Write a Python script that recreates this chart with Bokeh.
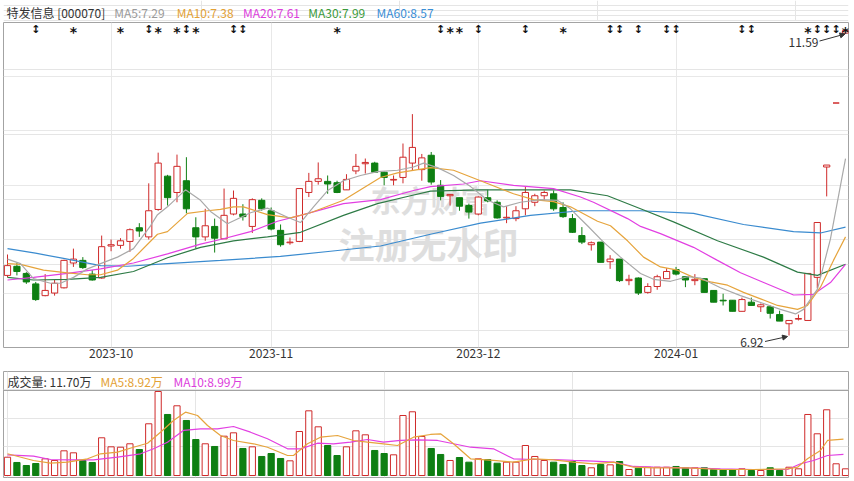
from bokeh.plotting import figure
from bokeh.models import Range1d, FixedTicker, Grid, Span, Arrow, NormalHead
from bokeh.layouts import column
from bokeh.embed import file_html
from bokeh.resources import INLINE
from bokeh.core.properties import value

FONT = "Noto Sans CJK SC"

# ---------------- data ----------------
stock_name = "特发信息 [000070]"
header_ma = ["MA5:7.29", "MA10:7.38", "MA20:7.61", "MA30:7.99", "MA60:8.57"]
vol_header = ["成交量: 11.70万", "MA5:8.92万", "MA10:8.99万"]
month_ticks = [11, 28, 50, 71]
month_labels = ["2023-10", "2023-11", "2023-12", "2024-01"]

opens = [7.84, 7.98, 7.87, 7.71, 7.53, 7.57, 7.65, 8.03, 8.07, 7.86,
         7.80, 8.29, 8.30, 8.36, 8.57, 8.43, 8.85, 9.36, 9.11, 9.29,
         8.57, 8.43, 8.59, 8.40, 8.78, 8.78, 8.59, 8.99, 8.83, 8.53,
         8.34, 8.36, 9.11, 9.28, 9.28, 9.26, 9.15, 9.44, 9.55, 9.56,
         9.42, 9.30, 9.34, 9.56, 9.46, 9.68, 9.22, 9.06, 9.03, 8.91,
         8.78, 9.03, 8.96, 8.72, 8.71, 8.86, 8.96, 9.06, 9.09, 8.88,
         8.71, 8.45, 8.31, 8.35, 8.05, 8.09, 7.76, 7.80, 7.58, 7.67,
         7.79, 7.93, 7.82, 7.76, 7.79, 7.61, 7.46, 7.46, 7.29, 7.43,
         7.36, 7.36, 7.24, 7.10, 7.17, 7.15, 7.81, 9.50, 10.48, 11.55]
highs = [8.16, 8.03, 7.89, 7.74, 7.86, 7.77, 8.08, 8.25, 8.12, 7.92,
         8.45, 8.39, 8.41, 8.56, 8.64, 9.25, 9.72, 9.38, 9.69, 9.65,
         8.73, 8.86, 8.71, 9.17, 9.14, 8.93, 9.02, 9.02, 8.88, 8.62,
         8.42, 9.17, 9.41, 9.57, 9.37, 9.29, 9.39, 9.70, 9.63, 9.58,
         9.43, 9.37, 9.86, 10.31, 9.70, 9.73, 9.30, 9.08, 9.03, 8.94,
         9.05, 9.15, 8.99, 8.90, 8.90, 9.20, 9.09, 9.14, 9.14, 8.96,
         8.78, 8.58, 8.36, 8.35, 8.15, 8.09, 7.85, 7.81, 7.72, 7.85,
         7.95, 7.97, 7.82, 7.86, 7.79, 7.61, 7.56, 7.46, 7.50, 7.50,
         7.41, 7.38, 7.30, 7.15, 7.24, 7.87, 8.65, 9.53, 10.48, 11.59]
lows = [7.81, 7.84, 7.71, 7.45, 7.52, 7.53, 7.64, 7.97, 7.94, 7.76,
        7.79, 8.21, 8.25, 8.20, 8.43, 8.39, 8.83, 8.91, 8.96, 8.79,
        8.25, 8.37, 8.19, 8.40, 8.76, 8.68, 8.49, 8.83, 8.53, 8.28,
        8.31, 8.35, 9.04, 9.23, 9.09, 9.10, 9.15, 9.39, 9.40, 9.42,
        9.22, 9.22, 9.25, 9.45, 9.29, 9.23, 8.99, 8.91, 8.83, 8.71,
        8.76, 8.96, 8.71, 8.64, 8.67, 8.76, 8.90, 8.99, 8.83, 8.72,
        8.49, 8.32, 8.22, 8.04, 7.94, 7.74, 7.69, 7.54, 7.56, 7.62,
        7.79, 7.84, 7.66, 7.69, 7.58, 7.43, 7.38, 7.29, 7.29, 7.38,
        7.28, 7.18, 7.14, 6.92, 7.15, 7.15, 7.64, 9.05, 10.48, 11.55]
closes = [7.99, 7.90, 7.74, 7.47, 7.61, 7.72, 8.07, 8.09, 7.96, 7.77,
          8.28, 8.31, 8.37, 8.54, 8.52, 8.83, 9.56, 9.03, 9.51, 8.86,
          8.43, 8.60, 8.41, 8.76, 9.02, 8.74, 9.00, 8.86, 8.55, 8.31,
          8.35, 9.17, 9.28, 9.32, 9.24, 9.11, 9.31, 9.51, 9.57, 9.42,
          9.34, 9.31, 9.65, 9.80, 9.64, 9.27, 9.05, 9.08, 8.90, 8.81,
          9.04, 8.98, 8.72, 8.73, 8.83, 9.11, 9.06, 9.11, 8.86, 8.74,
          8.50, 8.35, 8.34, 8.04, 8.09, 7.76, 7.78, 7.57, 7.67, 7.82,
          7.90, 7.86, 7.77, 7.78, 7.58, 7.43, 7.45, 7.29, 7.47, 7.38,
          7.39, 7.26, 7.14, 7.15, 7.18, 7.87, 8.65, 9.53, 10.48, 11.59]
volumes = [32.0, 22.8, 17.5, 21.0, 29.2, 26.3, 43.2, 39.7, 26.3, 22.8,
           66.0, 50.2, 49.5, 55.5, 45.5, 90.5, 147.0, 106.8, 122.0, 96.3,
           63.0, 55.5, 50.8, 68.8, 74.7, 47.3, 50.2, 33.3, 38.5, 29.8,
           25.7, 77.0, 113.2, 85.2, 52.5, 35.0, 50.2, 78.2, 71.2, 43.8,
           38.5, 36.2, 105.0, 111.5, 68.3, 47.3, 36.8, 26.3, 31.5, 23.3,
           29.2, 28.0, 21.5, 23.3, 23.3, 52.5, 33.3, 26.3, 23.3, 19.3,
           24.5, 17.5, 13.5, 19.3, 18.7, 24.5, 10.5, 12.8, 14.5, 14.5,
           14.5, 15.8, 13.5, 13.5, 13.5, 10.5, 10.5, 10.5, 11.7, 8.8,
           8.8, 13.5, 8.8, 14.5, 11.7, 106.8, 73.0, 115.0, 20.5, 11.7]

# moving-average lines (candle index, value)
ma5_i = [0, 1.38, 2.76, 4.57, 5.63, 7.01, 8.50, 9.88, 11.68, 13.38, 15.19, 15.93, 16.99, 18.90, 20.50,
         21.56, 23.36, 25.81, 27.61, 29.74, 31.12, 32.50, 34.0, 35.68, 37.49, 39.29, 41.42, 43.12, 44.18,
         45.67, 47.37, 49.18, 51.0, 52.68, 54.48, 56.61, 58.41, 59.79, 61.60, 63.30, 65.10, 67.23, 68.61,
         70.42, 72.22, 73.60, 75.72, 77.85, 80.29, 82.09, 83.69, 84.54, 86.02, 87.40, 89.0]
ma5_v = [8.09, 8.02, 7.79, 7.72, 7.72, 7.81, 7.94, 8.02, 8.12, 8.25, 8.60, 8.77, 8.89, 9.15, 8.99,
         8.82, 8.63, 8.80, 8.87, 8.73, 8.65, 8.89, 9.14, 9.29, 9.37, 9.43, 9.45, 9.50, 9.56,
         9.49, 9.37, 9.20, 8.99, 8.89, 8.96, 9.00, 8.99, 8.86, 8.60, 8.35, 8.12, 7.87, 7.78,
         7.75, 7.82, 7.80, 7.65, 7.53, 7.41, 7.32, 7.25, 7.32, 7.63, 8.40, 9.63]
ma10_i = [0, 1.38, 3.82, 6.37, 8.50, 9.88, 11.68, 13.38, 15.93, 16.99, 19.12, 21.24, 22.62, 24.0, 25.06,
          27.61, 30.05, 32.18, 35.68, 39.61, 41.42, 44.92, 47.37, 50.23, 53.74, 55.86, 57.99, 59.79, 62.66,
          64.04, 65.85, 67.55, 69.35, 71.16, 72.86, 74.66, 76.47, 78.17, 79.98, 81.78, 83.90, 84.96, 86.34,
          87.72, 89.0]
ma10_v = [8.02, 8.01, 7.92, 7.88, 7.85, 7.85, 7.92, 8.10, 8.47, 8.51, 8.79, 8.83, 8.85, 8.89, 8.89,
          8.77, 8.72, 8.80, 8.99, 9.34, 9.41, 9.49, 9.45, 9.29, 9.09, 9.00, 8.97, 8.89, 8.67,
          8.60, 8.37, 8.12, 7.97, 7.92, 7.81, 7.74, 7.69, 7.58, 7.48, 7.38, 7.32, 7.38, 7.66,
          8.07, 8.43]
ma20_i = [0, 2.76, 6.37, 9.88, 13.38, 16.99, 20.50, 22.62, 25.81, 28.67, 31.12, 35.68, 39.61, 43.12, 44.92,
          48.43, 50.23, 53.74, 57.99, 60.85, 62.23, 65.85, 67.23, 69.35, 72.86, 75.40, 77.85, 80.18, 83.48,
          85.60, 87.40, 89.0]
ma20_v = [7.77, 7.81, 7.87, 7.94, 8.03, 8.17, 8.32, 8.39, 8.51, 8.67, 8.76, 8.94, 9.00, 9.14, 9.20,
          9.24, 9.29, 9.22, 9.17, 9.04, 8.96, 8.71, 8.59, 8.48, 8.27, 8.07, 7.88, 7.74, 7.54,
          7.55, 7.73, 8.01]
ma30_i = [0, 2.76, 6.37, 9.88, 13.38, 16.99, 20.50, 24.0, 27.61, 31.12, 35.68, 39.29, 42.80, 44.92, 50.23,
          57.35, 59.79, 63.72, 67.23, 70.73, 75.40, 80.29, 83.90, 86.02, 89.0]
ma30_v = [7.81, 7.77, 7.78, 7.81, 7.90, 8.11, 8.27, 8.37, 8.43, 8.50, 8.76, 8.94, 9.06, 9.13, 9.15,
          9.15, 9.15, 9.06, 8.86, 8.66, 8.37, 8.12, 7.89, 7.84, 8.01]
ma60_i = [0, 2.97, 5.95, 9.88, 12.74, 16.99, 22.62, 28.99, 34.30, 39.61, 44.92, 50.23, 55.54, 60.85, 67.23,
          72.86, 78.17, 83.48, 86.34, 89.0]
ma60_v = [8.25, 8.18, 8.10, 7.99, 7.98, 8.02, 8.07, 8.13, 8.21, 8.29, 8.47, 8.64, 8.76, 8.83, 8.83,
          8.79, 8.62, 8.51, 8.49, 8.58]

vma5_i = [0, 2.76, 4.57, 6.37, 8.50, 9.88, 11.68, 13.38, 14.87, 16.25, 17.63, 18.90, 20.18, 21.24, 22.62,
          24.0, 26.13, 27.61, 29.74, 30.37, 31.86, 33.24, 35.05, 36.75, 38.23, 39.93, 41.42, 43.12, 44.92,
          45.99, 47.37, 49.18, 51.61, 53.74, 55.86, 57.99, 60.11, 62.23, 64.36, 66.48, 68.61, 72.22, 75.72,
          79.23, 82.84, 83.90, 84.96, 86.34, 87.09, 88.78]
vma5_v = [38.0, 26.3, 21.5, 23.3, 29.2, 38.0, 40.8, 49.5, 56.5, 75.8, 96.3, 110.8, 105.0, 87.5, 70.0,
          61.3, 55.5, 49.5, 35.0, 35.0, 55.5, 67.0, 70.0, 61.3, 58.3, 55.5, 52.5, 67.0, 71.8,
          73.0, 55.5, 29.2, 26.3, 23.3, 29.2, 27.5, 23.3, 20.5, 23.3, 14.5, 13.5, 13.5, 10.5,
          10.5, 11.7, 14.5, 29.2, 43.8, 61.3, 63.5]
vma10_i = [0, 2.76, 4.57, 6.37, 9.13, 11.68, 14.13, 15.51, 16.99, 18.69, 20.50, 22.30, 24.0, 25.81, 27.61,
           29.74, 31.12, 32.92, 34.62, 36.43, 38.23, 39.93, 41.74, 43.55, 45.67, 47.37, 49.18, 51.61, 53.74,
           55.86, 57.99, 60.11, 62.23, 64.36, 66.48, 68.61, 72.22, 75.72, 79.23, 82.84, 84.22, 85.60, 87.09,
           88.78]
vma10_v = [36.2, 33.8, 28.0, 27.5, 27.5, 32.0, 38.0, 46.7, 58.3, 78.8, 81.7, 81.7, 85.8, 75.8, 64.2,
           46.7, 46.7, 56.5, 55.5, 58.3, 63.0, 58.3, 61.3, 62.5, 61.3, 55.5, 49.5, 46.7, 29.2,
           28.0, 28.0, 26.3, 25.0, 23.3, 15.8, 14.5, 13.5, 11.7, 10.5, 10.5, 20.5, 26.3, 35.0,
           36.8]

event_idx = [3, 7, 12, 15, 16, 18, 19, 20, 24, 25, 35, 46, 47, 48, 50, 55, 59, 64, 65, 67,
             70, 71, 78, 79, 85, 86, 87, 88, 89]
event_sym = ["↕", "*", "*", "↕", "*", "*", "↕", "*", "↕", "↕", "*", "↕", "*", "*", "↕", "↕", "*", "↕", "↕", "↕",
             "↕", "↕", "↕", "↕", "*", "↕", "↕", "↕", "*"]

watermark = ["东方财富", "注册无水印"]

# ---------------- layout constants ----------------
RED = "#cf2a2a"
GREEN = "#0e7f12"
GRID = "#e8e8e8"
BORDER = "#a3a3a3"
C_MA5, C_MA10, C_MA20, C_MA30, C_MA60 = "#a9a9a9", "#e6a43c", "#e23fe2", "#2e7b46", "#3a8bcf"

FX0, FX1 = 3, 848          # frame left/right (page px)
FH = 325                   # price frame height px
X0, X1 = -0.425, 89.316    # x range (candle index)
PY0, PY1 = 6.736, 11.713   # price range
XPX = (FX1 - FX0) / (X1 - X0)   # px per index
PPX = (PY1 - PY0) / FH          # price per px


def px2i(px):
    return X0 + (px - FX0) / XPX


def py2p(py):  # py measured from price frame top
    return PY1 - py * PPX


n = len(closes)
idx = list(range(n))
up = [c >= o for o, c in zip(opens, closes)]
col = [RED if u else GREEN for u in up]
fill = ["#ffffff" if u else GREEN for u in up]
btop = [max(o, c) for o, c in zip(opens, closes)]
bbot = [min(o, c) for o, c in zip(opens, closes)]

# ---------------- header ----------------
p0 = figure(width=854, height=21, x_range=Range1d(0, 854), y_range=Range1d(21, 0),
            output_backend="svg", toolbar_location=None, tools="",
            x_axis_location=None, y_axis_location=None, min_border=0)
p0.outline_line_color = None
hdr_text = [stock_name] + header_ma
hdr_x = [3, 112, 175, 242, 308, 377]
hdr_col = ["#333333", "#9a9a9a", "#e3a136", "#dc3edc", "#3b9a3b", "#3a8ed6"]
p0.text(x=hdr_x, y=[11.5] * len(hdr_x), text=hdr_text, text_color=hdr_col,
        text_font=value(FONT), text_font_size="12px", text_baseline="middle", text_align="left")

# ---------------- price panel ----------------
p1 = figure(width=854, height=349, x_range=Range1d(X0, X1), y_range=Range1d(PY0, PY1),
            output_backend="svg", toolbar_location=None, tools="", y_axis_location=None,
            min_border_left=3, min_border_right=6, min_border_top=1, min_border_bottom=23)
p1.outline_line_color = BORDER
p1.background_fill_color = "white"
p1.xaxis.ticker = FixedTicker(ticks=month_ticks)
p1.xaxis.major_label_overrides = {t: l for t, l in zip(month_ticks, month_labels)}
p1.xaxis.axis_line_color = None
p1.xaxis.major_tick_line_color = None
p1.xaxis.minor_tick_line_color = None
p1.xaxis.major_tick_out = 0
p1.xaxis.major_tick_in = 0
p1.xaxis.major_label_standoff = 1
p1.xaxis.major_label_text_font = FONT
p1.xaxis.major_label_text_font_size = "12px"
p1.xaxis.major_label_text_color = "#333333"
p1.xgrid.ticker = FixedTicker(ticks=month_ticks)
p1.xgrid.grid_line_color = GRID
ygrid_ticks = [PY0 + k * (PY1 - PY0) / 6 for k in range(1, 6)]
p1.add_layout(Grid(dimension=1, ticker=FixedTicker(ticks=ygrid_ticks), grid_line_color=GRID))

# watermark (behind everything)
p1.text(x=[px2i(370), px2i(338)], y=[py2p(198 - 22), py2p(242 - 22)], text=watermark,
        text_color="#dedede", text_font=value(FONT), text_font_style="bold",
        text_font_size=["30px", "36px"], text_baseline="middle", text_align="left")

# candles
p1.segment(x0=idx, y0=highs, x1=idx, y1=lows, line_color=col, line_width=1)
p1.vbar(x=idx, width=0.66, top=btop, bottom=bbot, fill_color=fill, line_color=col, line_width=1)

# moving averages
for xs, ys, c in [(ma60_i, ma60_v, C_MA60), (ma30_i, ma30_v, C_MA30), (ma20_i, ma20_v, C_MA20),
                  (ma10_i, ma10_v, C_MA10), (ma5_i, ma5_v, C_MA5)]:
    p1.line(xs, ys, line_color=c, line_width=1.2)

# event markers row
arr_x = [i for i, s in zip(event_idx, event_sym) if s == "↕"]
star_x = [i for i, s in zip(event_idx, event_sym) if s == "*"]
p1.text(x=arr_x, y=[py2p(6.5)] * len(arr_x), text=["↕"] * len(arr_x), text_color="#111111",
        text_font=value("DejaVu Sans"), text_font_style="bold", text_font_size="11px",
        text_baseline="middle", text_align="center")
p1.text(x=star_x, y=[py2p(9.5)] * len(star_x), text=["*"] * len(star_x), text_color="#111111",
        text_font=value("DejaVu Sans"), text_font_style="bold", text_font_size="14px",
        text_baseline="middle", text_align="center")

# high / low annotations
hi_i = max(idx, key=lambda i: highs[i])
lo_i = min(idx, key=lambda i: lows[i])
hi_v, lo_v = highs[hi_i], lows[lo_i]
p1.text(x=[hi_i - 27 / XPX, lo_i - 25.5 / XPX], y=[hi_v - 11.5 * PPX, lo_v - 7.5 * PPX],
        text=[f"{hi_v:.2f}", f"{lo_v:.2f}"], text_color="#333333", text_font=value(FONT),
        text_font_size="12px", text_baseline="middle", text_align="right")
p1.add_layout(Arrow(end=NormalHead(size=5, fill_color="#333333", line_color="#333333", line_width=1),
                    x_start=hi_i - 26 / XPX, y_start=hi_v - 10.5 * PPX,
                    x_end=hi_i - 0.5 / XPX, y_end=hi_v - 3.5 * PPX,
                    line_color="#333333", line_width=1))
p1.add_layout(Arrow(end=NormalHead(size=5, fill_color="#333333", line_color="#333333", line_width=1),
                    x_start=lo_i - 24 / XPX, y_start=lo_v - 6 * PPX,
                    x_end=lo_i - 1.5 / XPX, y_end=lo_v - 1 * PPX,
                    line_color="#333333", line_width=1))

# ---------------- volume panel ----------------
vmax = max(volumes)
VPX = vmax / 84.0
VY0, VY1 = -2 * VPX, vmax + 20 * VPX
p2 = figure(width=854, height=111, x_range=p1.x_range, y_range=Range1d(VY0, VY1),
            output_backend="svg", toolbar_location=None, tools="",
            x_axis_location=None, y_axis_location=None,
            min_border_left=3, min_border_right=6, min_border_top=1, min_border_bottom=4)
p2.outline_line_color = BORDER
p2.add_layout(Span(location=vmax + 1 * VPX, dimension="width", line_color=BORDER, line_width=1))
p2.vbar(x=idx, width=0.66, top=volumes, bottom=0, fill_color=fill, line_color=col, line_width=1)
p2.line(vma10_i, vma10_v, line_color=C_MA20, line_width=1.2)
p2.line(vma5_i, vma5_v, line_color=C_MA10, line_width=1.2)
p2.text(x=[px2i(7), px2i(100), px2i(173)], y=[vmax + 10.3 * VPX] * 3, text=vol_header,
        text_color=["#333333", "#e3a136", "#dc3edc"], text_font=value(FONT),
        text_font_size="12px", text_baseline="middle", text_align="left")

layout = column(p0, p1, p2, spacing=0)
open("out.html", "w").write(file_html(layout, INLINE, title="特发信息"))
